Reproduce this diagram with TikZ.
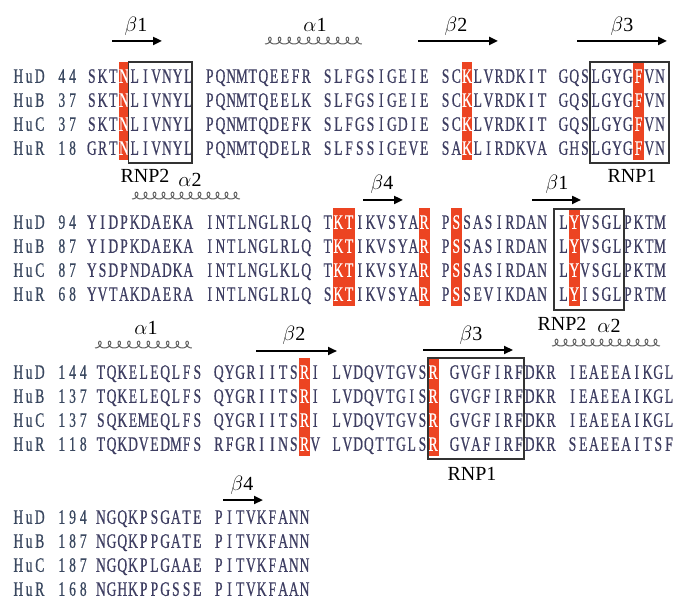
\documentclass[tikz,border=0pt]{standalone}
\usepackage{fontspec}
\setmainfont{Liberation Serif}
\newfontfamily\seqfont[FakeStretch=0.66,FakeBold=0.6]{Liberation Serif}
\usetikzlibrary{arrows.meta}
\definecolor{seqcol}{RGB}{62,62,98}
\definecolor{namecol}{RGB}{58,72,96}
\definecolor{hlred}{RGB}{236,68,34}
\definecolor{helixcol}{RGB}{95,95,95}
\newlength\cw \setlength\cw{10.72pt}
\def\cwn{10.72}
\makeatletter
\newcommand\sq[1]{\sq@loop#1\relax}
\def\sq@loop#1{\ifx\relax#1\else\sq@char{#1}\expandafter\sq@loop\fi}
\newcommand\sq@char[1]{\ifnum`#1>90 \makebox[\cw][c]{\textcolor{white}{\uppercase{#1}}}\else\makebox[\cw][c]{#1}\fi}
\newcommand\mc[1]{\mc@loop#1\relax}
\def\mc@loop#1{\ifx\relax#1\else\makebox[\cw][c]{#1}\expandafter\mc@loop\fi}
\makeatother
\tikzset{
  sqn/.style={anchor=base west, inner sep=0pt, outer sep=0pt, font={\seqfont\fontsize{20.5}{22}\selectfont}, text=seqcol},
  nm/.style={sqn, text=namecol},
  lab/.style={inner sep=0pt, anchor=base, font={\fontsize{20}{22}\selectfont}},
  barrow/.style={line width=2.4pt, -{Triangle[length=9pt,width=8pt]}},
  boxl/.style={draw=black!80, line width=1.1pt},
  helixline/.style={helixcol, line width=1pt}
}
\newcommand\seqrow[6]{%
  \node[nm] (#1n) at (13,#2+6.8) {\mc{#3}};
  \node[nm] (#1c) at (56.5,#2+6.8) {\mc{#4}};
  \foreach \g [count=\i from 0] in {#6}{\node[sqn] (#1g\i) at ({#5+11*\i*\cwn},#2+6.8) {\expandafter\sq\expandafter{\g}};}
}
\newcommand\hl[4]{\fill[hlred] ({#1+#2*\cwn},#3-14) rectangle ({#1+(#2+#4)*\cwn},#3+84);}
\newcommand\hlx[4]{\draw[helixline] plot[domain=0:#4, samples=300, variable=\t, smooth] ({#1+(#2-#1)/#4*\t+3.3*sin(\t)},{#3-3.4*(1-cos(\t))});}
\newcommand\barr[4]{\coordinate (#1s) at (#2,#4); \coordinate (#1e) at (#3,#4); \draw[barrow] (#1s) -- (#1e);}
\begin{document}
\begin{tikzpicture}[x=1pt,y=-1pt]
\fill[white] (0,0) rectangle (677,601);
\useasboundingbox (0,0) rectangle (677,601);

% ---------- Block 1 ----------
\hl{86.5}{3}{76}{1}
\hl{86.5}{35}{76}{1}
\hl{86.5}{51}{76}{1}
\seqrow{a1}{76}{HuD}{44}{86.5}{SKTnLIVNYL,PQNMTQEEFR,SLFGSIGEIE,SCkLVRDKIT,GQSLGYGfVN}
\seqrow{a2}{100}{HuB}{37}{86.5}{SKTnLIVNYL,PQNMTQEELK,SLFGSIGEIE,SCkLVRDKIT,GQSLGYGfVN}
\seqrow{a3}{124}{HuC}{37}{86.5}{SKTnLIVNYL,PQNMTQDEFK,SLFGSIGDIE,SCkLVRDKIT,GQSLGYGfVN}
\seqrow{a4}{148}{HuR}{18}{86.5}{GRTnLIVNYL,PQNMTQDELR,SLFSSIGEVE,SAkLIRDKVA,GHSLGYGfVN}
\draw[boxl] (128.5,62) rectangle (192,163);
\draw[boxl] (590,62) rectangle (669,163);
\node[lab] (a-b1) at (136,32) {$\beta$1};
\node[lab] (a-a1) at (315,32) {$\alpha$1};
\node[lab] (a-b2) at (456,32) {$\beta$2};
\node[lab] (a-b3) at (622,32) {$\beta$3};
\barr{ab1}{112}{162}{41}
\barr{ab2}{418}{498}{41}
\barr{ab3}{577}{667}{41}
\hlx{265}{362}{44}{3600}
\node[lab] (a-rnp2) at (145,183) {RNP2};
\node[lab] (a-a2) at (190,187) {$\alpha$2};
\node[lab] (a-rnp1) at (632,183) {RNP1};
\hlx{132}{240}{199}{4320}

% ---------- Block 2 ----------
\hl{86.5}{23}{222}{2}
\hl{86.5}{31}{222}{1}
\hl{86.5}{34}{222}{1}
\hl{86.5}{45}{222}{1}
\seqrow{b1}{222}{HuD}{94}{86.5}{YIDPKDAEKA,INTLNGLRLQ,TktIKVSYAr,PsSASIRDAN,LyVSGLPKTM}
\seqrow{b2}{246}{HuB}{87}{86.5}{YIDPKDAEKA,INTLNGLRLQ,TktIKVSYAr,PsSASIRDAN,LyVSGLPKTM}
\seqrow{b3}{270}{HuC}{87}{86.5}{YSDPNDADKA,INTLNGLKLQ,TktIKVSYAr,PsSASIRDAN,LyVSGLPKTM}
\seqrow{b4}{294}{HuR}{68}{86.5}{YVTAKDAERA,INTLNGLRLQ,SktIKVSYAr,PsSEVIKDAN,LyISGLPRTM}
\draw[boxl] (554,209) rectangle (624,310);
\node[lab] (b-b4) at (382,190) {$\beta$4};
\node[lab] (b-b1) at (557,190) {$\beta$1};
\barr{bb4}{363}{403}{200}
\barr{bb1}{532}{581}{200}
\node[lab] (b-rnp2) at (562,331) {RNP2};
\node[lab] (b-a2) at (609,333) {$\alpha$2};
\hlx{552}{660}{346}{4320}

% ---------- Block 3 ----------
\hl{95.5}{19}{372}{1}
\hl{95.5}{31}{372}{1}
\seqrow{c1}{372}{HuD}{144}{95.5}{TQKELEQLFS,QYGRIITSrI,LVDQVTGVSr,GVGFIRFDKR,IEAEEAIKGL}
\seqrow{c2}{396}{HuB}{137}{95.5}{TQKELEQLFS,QYGRIITSrI,LVDQVTGISr,GVGFIRFDKR,IEAEEAIKGL}
\seqrow{c3}{420}{HuC}{137}{95.5}{SQKEMEQLFS,QYGRIITSrI,LVDQVTGVSr,GVGFIRFDKR,IEAEEAIKGL}
\seqrow{c4}{444}{HuR}{118}{95.5}{TQKDVEDMFS,RFGRIINSrV,LVDQTTGLSr,GVAFIRFDKR,SEAEEAITSF}
\draw[boxl] (428,358) rectangle (524,459);
\node[lab] (c-a1) at (146,335) {$\alpha$1};
\node[lab] (c-b2) at (294,341) {$\beta$2};
\node[lab] (c-b3) at (471,341) {$\beta$3};
\hlx{95}{192}{348}{3600}
\barr{cb2}{256}{337}{351}
\barr{cb3}{423}{513}{350}
\node[lab] (c-rnp1) at (472,480) {RNP1};

% ---------- Block 4 ----------
\seqrow{d1}{517}{HuD}{194}{95.5}{NGQKPSGATE,PITVKFANN}
\seqrow{d2}{541}{HuB}{187}{95.5}{NGQKPPGATE,PITVKFANN}
\seqrow{d3}{565}{HuC}{187}{95.5}{NGQKPLGAAE,PITVKFANN}
\seqrow{d4}{589}{HuR}{168}{95.5}{NGHKPPGSSE,PITVKFAAN}
\node[lab] (d-b4) at (242,490) {$\beta$4};
\barr{db4}{223}{263}{500}
\end{tikzpicture}
\end{document}
